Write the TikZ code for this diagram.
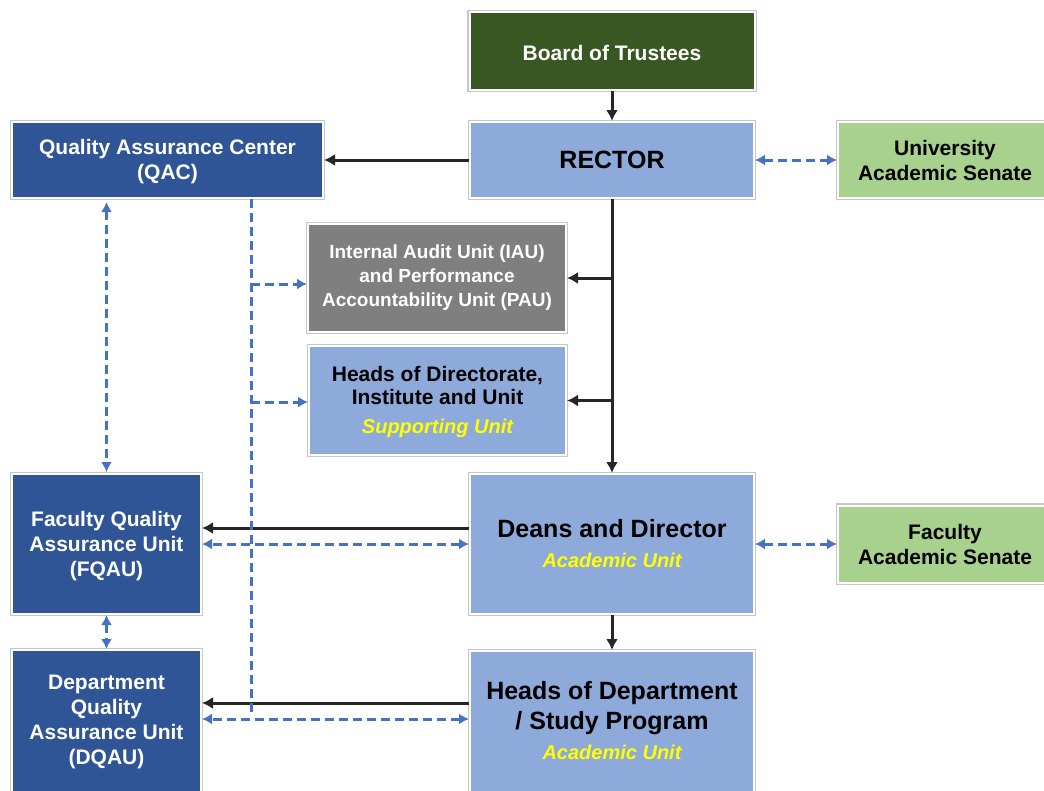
\documentclass[tikz,border=0pt]{standalone}
\usepackage{fontspec}
\setmainfont{Liberation Sans}
\usetikzlibrary{arrows.meta,calc}
\definecolor{dgreen}{HTML}{385723}
\definecolor{lblue}{HTML}{8EAADB}
\definecolor{dblue}{HTML}{2F5597}
\definecolor{lgreen}{HTML}{A9D18E}
\definecolor{gbox}{HTML}{7F7F7F}
\definecolor{dashblue}{HTML}{4472C4}
\definecolor{arrowblk}{HTML}{262626}
\definecolor{yelc}{HTML}{FFFF00}
\newcommand\yelit{\color{yelc}\itshape\fontsize{20}{24}\selectfont}
\begin{document}
\begin{tikzpicture}[x=1pt,y=-1pt,
  box/.style={draw=white,line width=2pt,preaction={draw=black!22,line width=4.5pt},inner sep=0pt,align=center,font=\bfseries\fontsize{21}{25}\selectfont},
  plain/.style={inner sep=0pt,align=center,font=\bfseries\fontsize{21}{25}\selectfont},
  blk/.style={draw=arrowblk,line width=3pt,-{Latex[length=11pt,width=12pt]}},
  dline/.style={draw=dashblue,line width=3pt,dash pattern=on 9pt off 5pt},
  dsh/.style={dline,{Latex[length=10pt,width=11pt]}-{Latex[length=10pt,width=11pt]}},
  dsing/.style={dline,-{Latex[length=10pt,width=11pt]}}]
\useasboundingbox (0,0) rectangle (1044,790);
\fill[white] (0,0) rectangle (1044,790);
% boxes
\node[box,fill=dgreen,minimum width=285,minimum height=78] (bot) at (612,51) {};
\node[plain,text=white] (bott) at (612,53) {Board of Trustees};
\node[box,fill=lblue,minimum width=284,minimum height=76,font=\bfseries\fontsize{25}{30}\selectfont] (rector) at (612,160) {RECTOR};
\node[box,fill=dblue,minimum width=311,minimum height=76] (qac) at (167.5,160) {};
\node[plain,text=white] (qact) at (167.5,162) {Quality Assurance Center\\(QAC)};
\node[box,fill=lgreen,minimum width=214,minimum height=76] (uas) at (945,160) {University\\Academic Senate};
\node[box,fill=gbox,text=white,minimum width=258,minimum height=108,font=\bfseries\fontsize{19}{24}\selectfont] (iau) at (437,278) {Internal Audit Unit (IAU)\\and Performance\\Accountability Unit (PAU)};
\node[box,fill=lblue,minimum width=257,minimum height=109] (hod) at (437.5,400.5) {};
\node[plain,font=\bfseries\fontsize{21}{23}\selectfont] (hodt) at (437.5,402) {Heads of Directorate,\\Institute and Unit\\[6pt]\yelit Supporting Unit};
\node[box,fill=dblue,minimum width=189,minimum height=140] (fqau) at (106.5,544) {};
\node[plain,text=white] (fqaut) at (106.5,546) {Faculty Quality\\Assurance Unit\\(FQAU)};
\node[box,fill=lblue,minimum width=284,minimum height=140,font=\bfseries\fontsize{25}{30}\selectfont] (deans) at (612,544) {Deans and Director\\\yelit Academic Unit};
\node[box,fill=lgreen,minimum width=214,minimum height=77] (fas) at (945,544) {Faculty\\Academic Senate};
\node[box,fill=dblue,minimum width=189,minimum height=170,anchor=north] (dqau) at (106.5,649) {};
\node[plain,text=white] (dqaut) at (106.5,722) {Department\\Quality\\Assurance Unit\\(DQAU)};
\node[box,fill=lblue,minimum width=284,minimum height=170,anchor=north] (hdept) at (612,650) {};
\node[plain,font=\bfseries\fontsize{25}{30}\selectfont] (hdeptt) at (612,721) {Heads of Department\\/ Study Program\\\yelit Academic Unit};
% helper coordinates
\coordinate (qx) at (251,0);
\coordinate (lowy) at (0,716);
\coordinate (hy1) at (0,703);
\coordinate (hy2) at (0,719);
% solid connectors
\draw[blk] (bot.south) -- (rector.north);
\draw[blk] (rector.west) -- (qac.east);
\draw[blk] (rector.south) -- (deans.north);
\draw[blk] (rector.south |- iau.east) -- (iau.east);
\draw[blk] (rector.south |- hod.east) -- (hod.east);
\draw[blk] ([yshift=16pt]deans.west) -- ([yshift=16pt]deans.west -| fqau.east);
\draw[blk] (deans.south) -- (hdept.north);
\draw[blk] (hdept.west |- hy1) -- (dqau.east |- hy1);
% dashed connectors
\draw[dsh] (rector.east) -- (uas.west);
\draw[dsh] (deans.east) -- (fas.west);
\draw[dsh,shorten <=3pt,shorten >=1pt] (fqau.north |- qac.south) -- (fqau.north);
\draw[dsh] (fqau.south) -- (dqau.north);
\draw[dsh] (deans.west) -- (fqau.east);
\draw[dsh] (hdept.west |- hy2) -- (dqau.east |- hy2);
\draw[dline] (qx |- qac.south) -- (qx |- lowy);
\draw[dsing] ([yshift=-6pt]iau.west -| qx) -- ([yshift=-6pt]iau.west);
\draw[dsing] ([yshift=-1.5pt]hod.west -| qx) -- ([yshift=-1.5pt]hod.west);
\end{tikzpicture}
\end{document}
